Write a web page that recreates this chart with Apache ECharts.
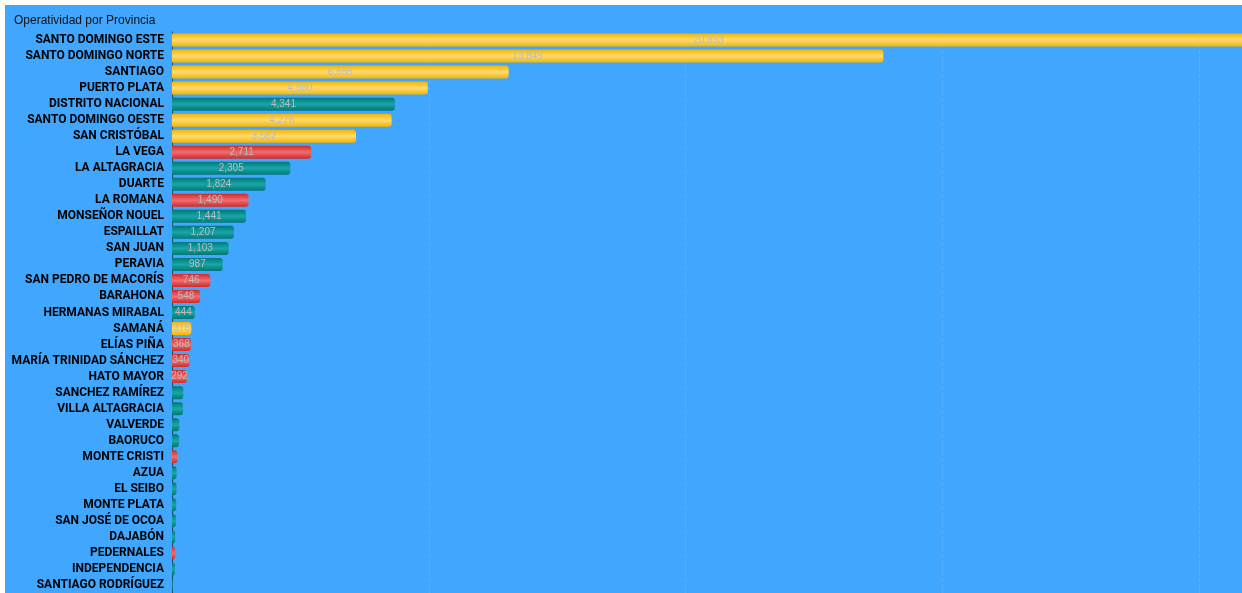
<!DOCTYPE html>
<html>
<head>
<meta charset="utf-8">
<script src="https://cdn.jsdelivr.net/npm/echarts@6/dist/echarts.min.js"></script>
<style>
  html, body { margin: 0; padding: 0; background: #fff; overflow: hidden; }
  #chart { position: absolute; left: 5px; top: 5px; width: 1237px; height: 588px; }
</style>
</head>
<body>
<div id="chart"></div>
<script>
// datos por provincia
const provincias = [
  'SANTO DOMINGO ESTE', 'SANTO DOMINGO NORTE', 'SANTIAGO', 'PUERTO PLATA',
  'DISTRITO NACIONAL', 'SANTO DOMINGO OESTE', 'SAN CRISTÓBAL', 'LA VEGA',
  'LA ALTAGRACIA', 'DUARTE', 'LA ROMANA', 'MONSEÑOR NOUEL', 'ESPAILLAT',
  'SAN JUAN', 'PERAVIA', 'SAN PEDRO DE MACORÍS', 'BARAHONA', 'HERMANAS MIRABAL',
  'SAMANÁ', 'ELÍAS PIÑA', 'MARÍA TRINIDAD SÁNCHEZ', 'HATO MAYOR',
  'SANCHEZ RAMÍREZ', 'VILLA ALTAGRACIA', 'VALVERDE', 'BAORUCO', 'MONTE CRISTI',
  'AZUA', 'EL SEIBO', 'MONTE PLATA', 'SAN JOSÉ DE OCOA', 'DAJABÓN',
  'PEDERNALES', 'INDEPENDENCIA', 'SANTIAGO RODRÍGUEZ'
]
const operatividad = [
  20893, 13849, 6555, 4980,
  4341, 4276, 3582, 2711,
  2305, 1824, 1490, 1441, 1207,
  1103, 987, 746, 548, 444,
  376, 368, 340, 292,
  220, 214, 142, 136, 103,
  90, 88, 82, 76, 62,
  60, 55, 12
]
// estado de cada provincia: 'amarillo' | 'verde' | 'rojo'
const estado = [
  'amarillo', 'amarillo', 'amarillo', 'amarillo',
  'verde', 'amarillo', 'amarillo', 'rojo',
  'verde', 'verde', 'rojo', 'verde', 'verde',
  'verde', 'verde', 'rojo', 'rojo', 'verde',
  'amarillo', 'rojo', 'rojo', 'rojo',
  'verde', 'verde', 'verde', 'verde', 'rojo',
  'verde', 'verde', 'verde', 'verde', 'verde',
  'rojo', 'verde', 'verde'
]

const gradientes = {
  amarillo: ['#f4b400', '#ffdb70'],
  verde: ['#00777a', '#1aa6a6'],
  rojo: ['#cc2b2b', '#f26d6d']
}

function gradiente(tipo) {
  const [borde, centro] = gradientes[tipo]
  return new echarts.graphic.LinearGradient(0, 0, 0, 1, [
    { offset: 0, color: borde },
    { offset: 0.5, color: centro },
    { offset: 1, color: borde }
  ])
}

const chart = echarts.init(document.getElementById('chart'))
chart.setOption({
  backgroundColor: '#40a6fe',
  animation: false,
  title: {
    text: 'Operatividad por Provincia',
    left: 4,
    top: 5,
    textStyle: { fontSize: 12, fontWeight: 'normal', color: '#111', fontFamily: 'Liberation Sans, Arial' }
  },
  grid: { left: 167, top: 27, width: 1284, height: 561, containLabel: false, outerBoundsMode: 'none' },
  xAxis: {
    type: 'value',
    min: 0,
    max: 25000,
    interval: 5000,
    axisLabel: { show: false },
    axisLine: { show: false },
    axisTick: { show: false },
    splitLine: { lineStyle: { type: 'dashed', color: 'rgba(255,255,255,0.12)' } }
  },
  yAxis: {
    type: 'category',
    inverse: true,
    data: provincias,
    axisLine: { lineStyle: { color: '#1f4866', width: 1 } },
    axisTick: { length: 4, lineStyle: { color: '#1f4866' } },
    axisLabel: {
      color: '#000',
      fontWeight: 'bold',
      fontSize: 12,
      fontFamily: 'Roboto, Liberation Sans, Arial',
      margin: 8,
      padding: [4, 0, 0, 0]
    }
  },
  series: [{
    type: 'bar',
    barWidth: 13,
    data: operatividad.map((v, i) => ({
      value: v,
      itemStyle: { color: gradiente(estado[i]), borderRadius: [0, 3, 3, 0] }
    })),
    label: {
      show: true,
      position: 'inside',
      fontSize: 10,
      color: '#bdbdbd',
      fontFamily: 'Liberation Sans, Arial',
      formatter: p => p.value >= 250 ? p.value.toLocaleString('en-US') : ''
    }
  }]
})
</script>
</body>
</html>
